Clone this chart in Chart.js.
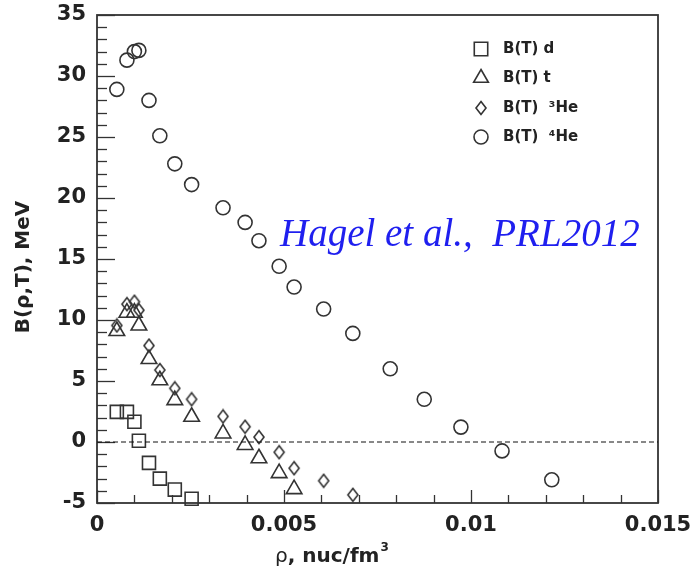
<!DOCTYPE html>
<html>
<head>
<meta charset="utf-8">
<title>B(rho,T)</title>
<script src="https://cdn.jsdelivr.net/npm/chart.js@4/dist/chart.umd.min.js"></script>
<style>
  html, body { margin: 0; padding: 0; background: #ffffff; }
  canvas { display: block; }
</style>
</head>
<body>
<canvas id="bindingChart" width="697" height="573"></canvas>
<script>
// Densities (nuc/fm^3) shared by all species
const rho = [0.00053, 0.0008, 0.001, 0.00112, 0.00139, 0.00168, 0.00208, 0.00253,
             0.00337, 0.00396, 0.00433, 0.00487, 0.00527, 0.00606, 0.00684,
             0.00784, 0.00875, 0.00973, 0.01083, 0.01216];

// Binding energies, MeV (one per density, shorter lists stop early)
const bindD   = [2.47, 2.47, 1.66, 0.1, -1.71, -3.0, -3.9, -4.65];
const bindT   = [9.1, 10.6, 10.6, 9.55, 6.8, 5.06, 3.43, 2.07, 0.7, -0.24, -1.33, -2.55, -3.86];
const bindHe3 = [9.55, 11.3, 11.5, 10.8, 7.9, 5.9, 4.4, 3.5, 2.1, 1.25, 0.4, -0.84, -2.15, -3.18, -4.33];
const bindHe4 = [28.9, 31.3, 32.0, 32.1, 28.0, 25.1, 22.8, 21.1, 19.2, 18.0, 16.5, 14.4, 12.7,
                 10.9, 8.9, 6.0, 3.5, 1.22, -0.73, -3.1];

const seriesLabels = ['B(T) d', 'B(T) t', 'B(T)  \u00b3He', 'B(T)  \u2074He'];

const xTicks = [0, 0.005, 0.01, 0.015];
const yTicks = [-5, 0, 5, 10, 15, 20, 25, 30, 35];

const INK = '#333333';
const FONT = "'DejaVu Sans', sans-serif";

// diamond marker for 3He (taller than wide)
function makeDiamond() {
    const c = document.createElement('canvas');
    c.width = 14; c.height = 16;
    const g = c.getContext('2d');
    g.strokeStyle = INK;
    g.lineWidth = 1.6;
    g.beginPath();
    g.moveTo(7, 1.5);
    g.lineTo(12, 8);
    g.lineTo(7, 14.5);
    g.lineTo(2, 8);
    g.closePath();
    g.stroke();
    return c;
}
const diamond = makeDiamond();

function points(values) {
    return values.map((v, i) => ({ x: rho[i], y: v }));
}

const markerStyles = [
    { pointStyle: 'rect', radius: 9.2 },
    { pointStyle: 'triangle', radius: 9 },
    { pointStyle: diamond, radius: 6 },
    { pointStyle: 'circle', radius: 7 },
];
const seriesData = [bindD, bindT, bindHe3, bindHe4];

const datasets = seriesData.map((vals, k) => ({
    type: 'scatter',
    label: seriesLabels[k],
    data: points(vals),
    pointStyle: markerStyles[k].pointStyle,
    pointRadius: markerStyles[k].radius,
    pointHoverRadius: markerStyles[k].radius,
    borderColor: INK,
    backgroundColor: 'rgba(0,0,0,0)',
    pointBorderWidth: 1.6,
    clip: false,
}));

// dashed zero line
datasets.unshift({
    type: 'line',
    label: 'zero',
    data: [{ x: 0, y: 0 }, { x: 0.015, y: 0 }],
    borderColor: '#111111',
    borderWidth: 1,
    borderDash: [5, 3],
    pointRadius: 0,
    fill: false,
});

// frame, inward ticks, axis titles, legend and annotation
const decorations = {
    id: 'decorations',
    beforeDatasetsDraw(chart) {
        const { ctx, chartArea: a, scales: { x, y } } = chart;
        ctx.save();
        ctx.strokeStyle = INK;

        // y ticks on the left edge
        ctx.lineWidth = 1.3;
        for (let v = -5; v <= 35; v += 1) {
            const py = Math.round(y.getPixelForValue(v)) + 0.5;
            const len = v % 5 === 0 ? 18 : 10;
            ctx.beginPath();
            ctx.moveTo(a.left, py);
            ctx.lineTo(a.left + len, py);
            ctx.stroke();
        }
        // x ticks on the bottom edge
        for (let i = 0; i <= 15; i++) {
            const px = Math.round(x.getPixelForValue(i * 0.001)) + 0.5;
            const len = i % 5 === 0 ? 13 : 8;
            ctx.beginPath();
            ctx.moveTo(px, a.bottom);
            ctx.lineTo(px, a.bottom - len);
            ctx.stroke();
        }

        // frame
        ctx.lineWidth = 1.8;
        ctx.strokeRect(a.left, a.top, a.right - a.left, a.bottom - a.top);
        ctx.restore();
    },
    afterDraw(chart) {
        const { ctx, chartArea: a } = chart;
        ctx.save();
        ctx.fillStyle = '#222222';

        // y axis title
        ctx.save();
        ctx.translate(24, (a.top + a.bottom) / 2 + 8);
        ctx.rotate(-Math.PI / 2);
        ctx.font = 'bold 20px ' + FONT;
        ctx.textAlign = 'center';
        ctx.textBaseline = 'middle';
        ctx.fillText('B(\u03c1,T), MeV', 0, 0);
        ctx.restore();

        // x axis title with superscript
        ctx.textBaseline = 'alphabetic';
        ctx.textAlign = 'left';
        let tx = 275;
        const ty = 562;
        ctx.font = '20px ' + FONT;
        ctx.fillText('\u03c1', tx, ty);
        tx += ctx.measureText('\u03c1').width;
        ctx.font = 'bold 20px ' + FONT;
        ctx.fillText(', nuc/fm', tx, ty);
        tx += ctx.measureText(', nuc/fm').width + 1;
        ctx.font = 'bold 12px ' + FONT;
        ctx.fillText('3', tx, ty - 11);

        // legend
        const rows = [49, 78, 108, 137];
        const legendMarks = [
            { pointStyle: 'rect', radius: 9.5 },
            { pointStyle: 'triangle', radius: 8.5 },
            { pointStyle: diamond, radius: 6 },
            { pointStyle: 'circle', radius: 7 },
        ];
        ctx.lineWidth = 1.6;
        legendMarks.forEach((m, k) => {
            ctx.strokeStyle = INK;
            ctx.fillStyle = 'rgba(0,0,0,0)';
            Chart.helpers.drawPoint(ctx, {
                pointStyle: m.pointStyle,
                radius: m.radius,
                rotation: 0,
                borderWidth: 1.6,
            }, 481, rows[k]);
            ctx.font = 'bold 15px ' + FONT;
            ctx.textBaseline = 'middle';
            ctx.fillStyle = '#222222';
            ctx.fillText(seriesLabels[k], 503, rows[k]);
        });

        // citation
        ctx.font = 'italic 39px "Liberation Serif", "Times New Roman", serif';
        ctx.fillStyle = '#1f1fef';
        ctx.textBaseline = 'alphabetic';
        ctx.fillText('Hagel et al.,  PRL2012', 280, 246);
        ctx.restore();
    }
};

new Chart(document.getElementById('bindingChart'), {
    data: { datasets },
    options: {
        responsive: false,
        devicePixelRatio: 1,
        animation: false,
        layout: { padding: { top: 15, right: 39, left: 0, bottom: 0 } },
        plugins: {
            legend: { display: false },
            tooltip: { enabled: false },
        },
        scales: {
            x: {
                type: 'linear',
                min: 0,
                max: 0.015,
                afterFit: s => {
                    s.height = 70;
                    s.paddingLeft = 0;
                    s.paddingRight = 0;
                },
                afterBuildTicks: s => { s.ticks = xTicks.map(v => ({ value: v })); },
                grid: { display: false, drawTicks: false },
                border: { display: false },
                ticks: {
                    padding: 10,
                    color: '#222222',
                    font: { family: FONT, weight: 'bold', size: 21 },
                    callback: v => String(+v.toFixed(3)),
                },
            },
            y: {
                type: 'linear',
                min: -5,
                max: 35,
                afterFit: s => {
                    s.width = 97;
                    s.paddingTop = 0;
                    s.paddingBottom = 0;
                },
                afterBuildTicks: s => { s.ticks = yTicks.map(v => ({ value: v })); },
                grid: { display: false, drawTicks: false },
                border: { display: false },
                ticks: {
                    padding: 11,
                    color: '#222222',
                    font: { family: FONT, weight: 'bold', size: 21 },
                },
            },
        },
    },
    plugins: [decorations],
});
</script>
</body>
</html>
